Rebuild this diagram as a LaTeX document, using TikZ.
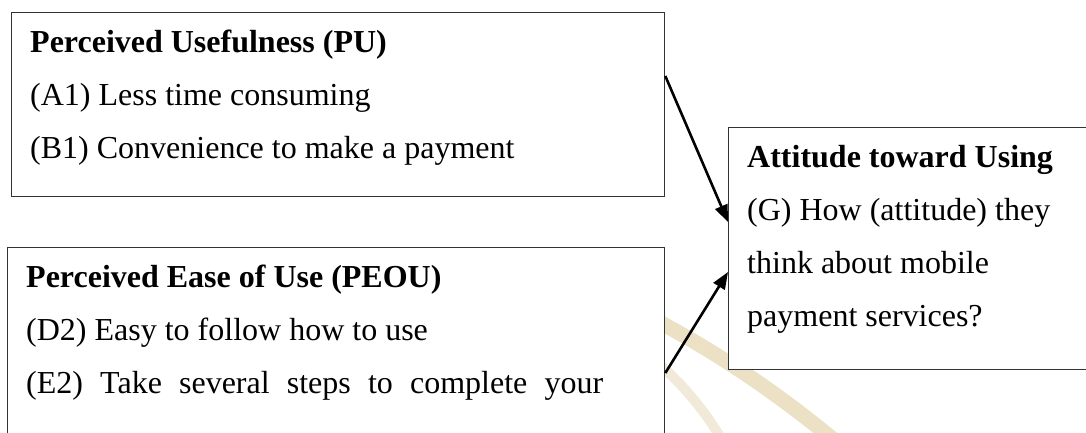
\documentclass[tikz,border=0pt]{standalone}
\usepackage{fontspec}
\setmainfont{Liberation Serif}
\usepackage{xcolor}
\usetikzlibrary{arrows.meta,positioning}

\definecolor{crest}{RGB}{212,186,126}

\begin{document}
\begin{tikzpicture}[
    x=1pt, y=-1pt,
    node distance=18pt and 19pt,
    flowline/.style={-{Triangle[length=17pt,width=13pt]}, line width=2.6pt, draw=black},
    frame/.style={
      draw=black!80,
      line width=1.3pt,
      fill=white,
      anchor=north west,
      inner sep=0pt
    },
    boxtext/.style={
      anchor=north west,
      inner sep=0pt,
      align=left,
      font=\fontsize{32}{53}\selectfont
    },
    crestline/.style={draw=crest, line cap=butt}
  ]
    \useasboundingbox (0,0) rectangle (1086,432);

    % faint logo behind the boxes
    \draw[crestline, line width=15pt, opacity=0.45] (640,312) .. controls (715,350) and (780,395) .. (840,445);
    \draw[crestline, line width=10pt, opacity=0.3] (645,352) .. controls (680,380) and (705,410) .. (725,445);

    \node[frame, minimum width=653pt, minimum height=184pt] (pu) at (11,12) {};
    \node[frame, minimum width=657pt, minimum height=240pt] (peou) at (7,247) {};
    \node[frame, minimum width=400pt, minimum height=242pt] (att) at (728,127) {};

    \node[boxtext, below right=of pu.north west] (putext) {
      \textbf{Perceived Usefulness (PU)}\\
      (A1) Less time consuming\\
      (B1) Convenience to make a payment
    };
    \node[boxtext, below right=of peou.north west] (peoutext) {
      \textbf{Perceived Ease of Use (PEOU)}\\
      (D2) Easy to follow how to use\\
      \hbox to 577pt{(E2) Take several steps to complete your}
    };
    \node[boxtext, below right=of att.north west] (atttext) {
      \textbf{Attitude toward Using}\\
      (G) How (attitude) they\\
      think about mobile\\
      payment services?
    };

    \draw[flowline] ([yshift=-64pt]pu.north east) -- ([yshift=-95pt]att.north west);
    \draw[flowline] ([yshift=-126pt]peou.north east) -- ([yshift=-145pt]att.north west);
  \end{tikzpicture}
\end{document}
